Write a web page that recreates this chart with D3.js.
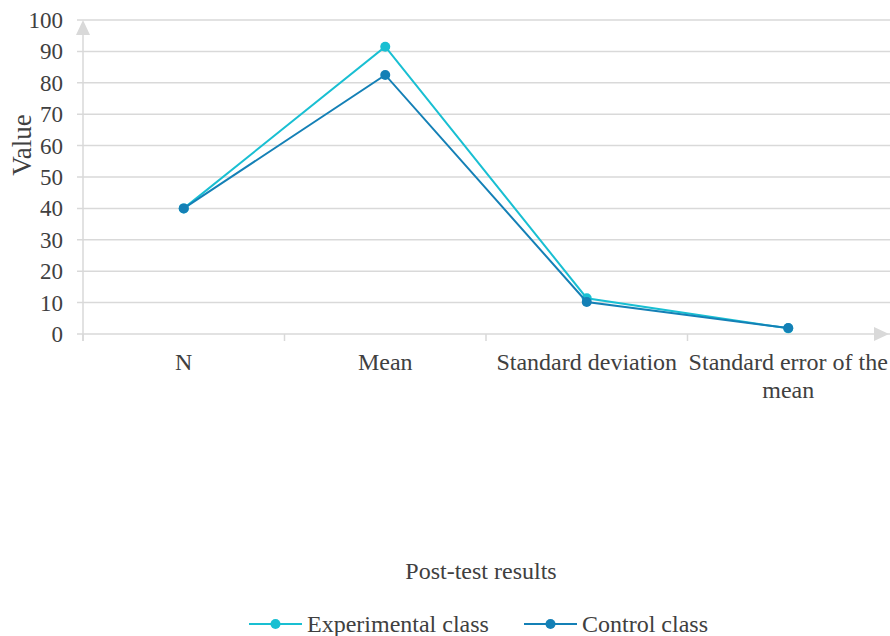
<!DOCTYPE html>
<html>
<head>
<meta charset="UTF-8" />
<script src="https://d3js.org/d3.v7.min.js"></script>
</head>
<body style="margin:0">
<svg width="890" height="636"></svg>
<script>
const categories = ["N", "Mean", "Standard deviation", "Standard error of the mean"];
const experimental = [40, 91.5, 11.4, 1.8];
const control = [40, 82.5, 10.2, 1.9];
const yTicks = [0, 10, 20, 30, 40, 50, 60, 70, 80, 90, 100];
const seriesNames = ["Experimental class", "Control class"];
const colors = ["#19BFD2", "#1480B6"];

const font = "'Liberation Serif', serif";
const textColor = "#404040";
const svg = d3.select("svg");
const plotLeft = 83, plotRight = 889, plotTop = 20, plotBottom = 334;

const x = d3.scaleBand().domain(categories).range([plotLeft, plotRight]);
const y = d3.scaleLinear().domain([0, 100]).range([plotBottom, plotTop]);

// gridlines
svg.append("g")
  .selectAll("line")
  .data(yTicks)
  .join("line")
  .attr("x1", plotLeft - 6).attr("x2", 890)
  .attr("y1", d => y(d)).attr("y2", d => y(d))
  .attr("stroke", "#d9d9d9").attr("stroke-width", 1.5);

// y axis labels
svg.append("g")
  .selectAll("text")
  .data(yTicks)
  .join("text")
  .attr("x", plotLeft - 20)
  .attr("y", d => y(d))
  .attr("dy", "0.35em")
  .attr("text-anchor", "end")
  .style("font-family", font)
  .style("font-size", "23px")
  .style("fill", textColor)
  .text(d => d);

// y axis line with arrow
svg.append("line")
  .attr("x1", plotLeft).attr("x2", plotLeft)
  .attr("y1", 30).attr("y2", plotBottom + 7)
  .attr("stroke", "#d9d9d9").attr("stroke-width", 1.5);
svg.append("path")
  .attr("d", `M${plotLeft - 7},35 L${plotLeft},20 L${plotLeft + 7},35 Z`)
  .attr("fill", "#d9d9d9");

// x axis arrow
svg.append("path")
  .attr("d", `M874,${plotBottom - 7} L889,${plotBottom} L874,${plotBottom + 7} Z`)
  .attr("fill", "#d9d9d9");

// x ticks between categories
svg.append("g")
  .selectAll("line")
  .data(categories)
  .join("line")
  .attr("x1", d => x(d)).attr("x2", d => x(d))
  .attr("y1", plotBottom).attr("y2", plotBottom + 7)
  .attr("stroke", "#d9d9d9").attr("stroke-width", 1.5);

// x labels
const xl = svg.append("g")
  .selectAll("text")
  .data(categories)
  .join("text")
  .attr("x", d => x(d) + x.bandwidth() / 2)
  .attr("y", 370)
  .attr("text-anchor", "middle")
  .style("font-family", font)
  .style("font-size", "24px")
  .style("fill", textColor);
xl.each(function (d) {
  const t = d3.select(this);
  const lines = d === "Standard error of the mean" ? ["Standard error of the", "mean"] : [d];
  lines.forEach((s, i) => {
    t.append("tspan")
      .attr("x", x(d) + x.bandwidth() / 2)
      .attr("dy", i === 0 ? 0 : 28)
      .text(s);
  });
});

// axis titles
svg.append("text")
  .attr("transform", "translate(31,145) rotate(-90)")
  .attr("text-anchor", "middle")
  .style("font-family", font)
  .style("font-size", "27px")
  .style("fill", textColor)
  .text("Value");

svg.append("text")
  .attr("x", 481).attr("y", 579)
  .attr("text-anchor", "middle")
  .style("font-family", font)
  .style("font-size", "24px")
  .style("fill", textColor)
  .text("Post-test results");

// series
const series = [experimental, control];
const line = d3.line()
  .x((d, i) => x(categories[i]) + x.bandwidth() / 2)
  .y(d => y(d));

series.forEach((vals, s) => {
  svg.append("path")
    .datum(vals)
    .attr("d", line)
    .attr("fill", "none")
    .attr("stroke", colors[s])
    .attr("stroke-width", 2);
  svg.append("g")
    .selectAll("circle")
    .data(vals)
    .join("circle")
    .attr("cx", (d, i) => x(categories[i]) + x.bandwidth() / 2)
    .attr("cy", d => y(d))
    .attr("r", 5)
    .attr("fill", colors[s]);
});

// legend
const legendX = [249, 524];
seriesNames.forEach((name, i) => {
  const g = svg.append("g").attr("transform", `translate(${legendX[i]},624)`);
  g.append("line").attr("x1", 0).attr("x2", 53).attr("y1", 0).attr("y2", 0)
    .attr("stroke", colors[i]).attr("stroke-width", 2);
  g.append("circle").attr("cx", 26.5).attr("cy", 0).attr("r", 5).attr("fill", colors[i]);
  g.append("text").attr("x", 58).attr("y", 0).attr("dy", "0.35em")
    .style("font-family", font)
    .style("font-size", "24px")
    .style("fill", textColor)
    .text(name);
});
</script>
</body>
</html>
